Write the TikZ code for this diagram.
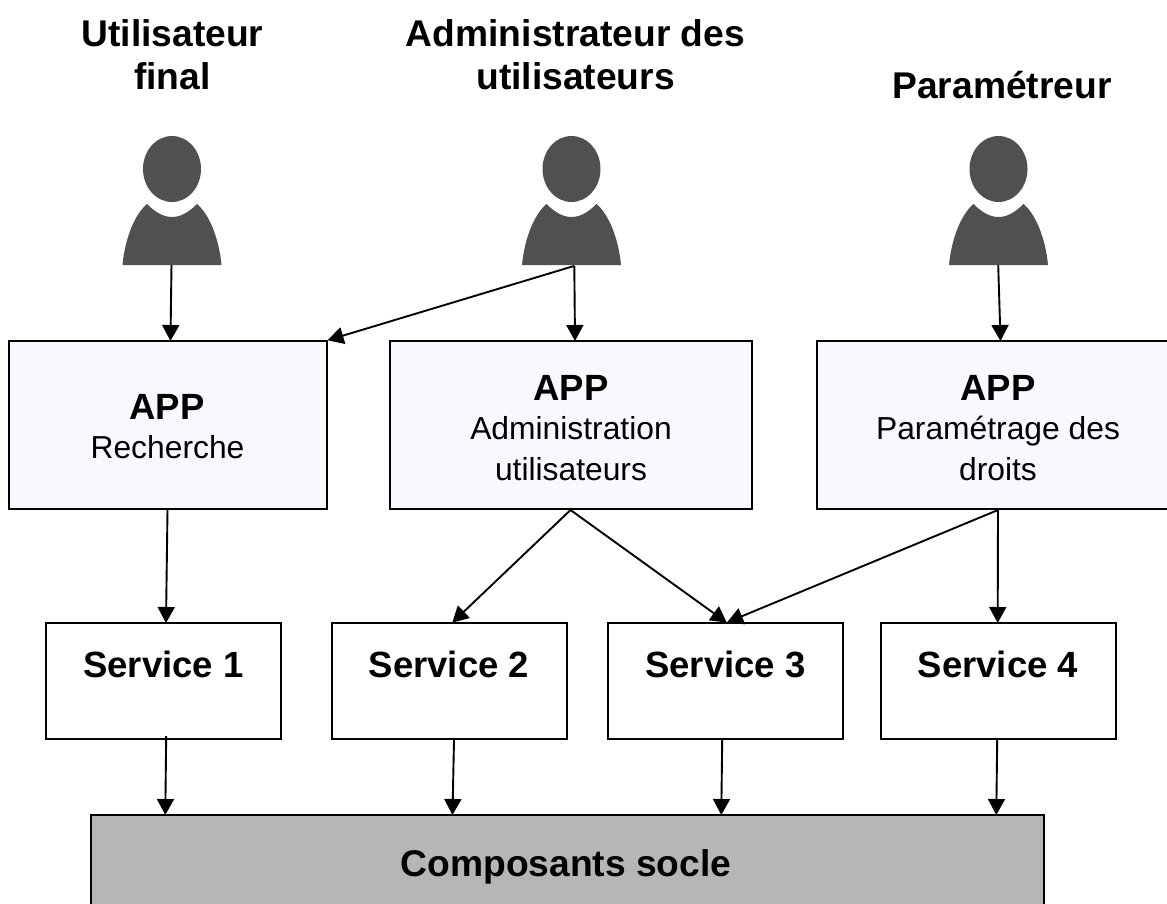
\documentclass[tikz,border=0pt]{standalone}
\usepackage{fontspec}
\setmainfont{Liberation Sans}
\usetikzlibrary{arrows.meta}
\definecolor{appfill}{HTML}{F7F9FF}
\definecolor{soclefill}{HTML}{B6B6B6}
\definecolor{persongray}{HTML}{505050}
\newcommand{\titlefont}{\fontsize{37.2}{43}\selectfont\bfseries}
\newcommand{\bigtxt}{\fontsize{36.5}{43}\selectfont\bfseries}
\newcommand{\smalltxt}{\fontsize{31.8}{41}\selectfont}
\tikzset{
  x=1pt,y=-1pt,
  boxbase/.style={draw=black,line width=2pt,inner sep=0pt,anchor=north west},
  appbox/.style={boxbase,fill=appfill,minimum width=#1,minimum height=168pt},
  servicebox/.style={boxbase,fill=white,minimum width=235pt,minimum height=116pt},
  soclebox/.style={boxbase,fill=soclefill,minimum width=953pt,minimum height=120pt},
  titletxt/.style={align=center,inner sep=0pt,font=\titlefont},
  boldtxt/.style={inner sep=0pt,font=\bigtxt},
  plaintxt/.style={align=center,inner sep=0pt,font=\smalltxt},
  personspot/.style={inner sep=0pt,minimum width=99pt,minimum height=140pt,anchor=south},
  conn/.style={line width=1.9pt,-{Triangle[length=16pt,width=17pt]},shorten >=-1pt},
}
\newcommand{\personshape}[1]{%
  \fill[persongray] (#1,169) ellipse [x radius=29, y radius=33];
  \fill[persongray] ({#1-25},204)
    .. controls ({#1-15},214) and ({#1-7},217) .. (#1,217)
    .. controls ({#1+7},217) and ({#1+15},214) .. ({#1+25},204)
    .. controls ({#1+37},214) and ({#1+47},238) .. ({#1+49.5},265)
    -- ({#1-49.5},265)
    .. controls ({#1-47},238) and ({#1-37},214) .. ({#1-25},204) -- cycle;
}
\begin{document}
\begin{tikzpicture}
\useasboundingbox (0,0) rectangle (1167,904);
\personshape{172}
\personshape{571.5}
\personshape{998.5}
\node[personspot] (p1) at (172,265) {};
\node[personspot] (p2) at (571.5,265) {};
\node[personspot] (p3) at (998.5,265) {};
\node[titletxt] (t1) at (172.5,55) {Utilisateur\\final};
\node[titletxt] (t2) at (575.5,54.5) {Administrateur des\\utilisateurs};
\node[titletxt] (t3) at (1002,85.5) {Paramétreur};

\node[appbox=318pt] (a1) at (8,340) {};
\node[appbox=362pt] (a2) at (389,340) {};
\node[appbox=352pt] (a3) at (816,340) {};
\node[boldtxt] (a1t) at (167,407) {APP};
\node[plaintxt] (a1s) at (167.5,447.5) {Recherche};
\node[boldtxt] (a2t) at (571,388) {APP};
\node[plaintxt] (a2s) at (571,448.5) {Administration\\utilisateurs};
\node[boldtxt] (a3t) at (998,388) {APP};
\node[plaintxt] (a3s) at (998,448.5) {Paramétrage des\\droits};

\node[servicebox] (s1) at (45,622) {};
\node[servicebox] (s2) at (330.5,622) {};
\node[servicebox] (s3) at (607,622) {};
\node[servicebox] (s4) at (880,622) {};
\node[boldtxt] (s1t) at (163.5,664.5) {Service 1};
\node[boldtxt] (s2t) at (449,664.5) {Service 2};
\node[boldtxt] (s3t) at (725.5,664.5) {Service 3};
\node[boldtxt] (s4t) at (998,664.5) {Service 4};

\node[soclebox] (c) at (89.5,814) {};
\node[boldtxt,font=\titlefont] (ct) at (566,867) {Composants socle};

\draw[conn] ([xshift=-0.5pt]p1.south) -- ([xshift=2.5pt]a1.north);
\draw[conn] ([xshift=2.5pt,yshift=-1pt]p2.south) -- ([xshift=0.5pt]a1.north east);
\draw[conn] ([xshift=2.8pt,yshift=-1pt]p2.south) -- ([xshift=4pt]a2.north);
\draw[conn] ([xshift=-0.3pt]p3.south) -- ([xshift=7.5pt]a3.north);
\draw[conn] ([xshift=-0.5pt]a1.south) -- ([xshift=2.5pt]s1.north);
\draw[conn] ([xshift=-0.5pt]a2.south) -- ([xshift=4pt]s2.north);
\draw[conn] ([xshift=-0.5pt]a2.south) -- ([xshift=0.5pt]s3.north);
\draw[conn] ([xshift=5pt]a3.south) -- ([xshift=2.5pt]s3.north);
\draw[conn] ([xshift=5pt]a3.south) -- ([xshift=-0.8pt]s4.north);
\draw[conn] ([xshift=2.7pt,yshift=4pt]s1.south) -- ([xshift=-401.7pt]c.north);
\draw[conn] ([xshift=5pt]s2.south) -- ([xshift=-114.5pt]c.north);
\draw[conn] ([xshift=-3.3pt]s3.south) -- ([xshift=154.3pt]c.north);
\draw[conn] ([xshift=-1.3pt]s4.south) -- ([xshift=429.3pt]c.north);
\end{tikzpicture}
\end{document}
